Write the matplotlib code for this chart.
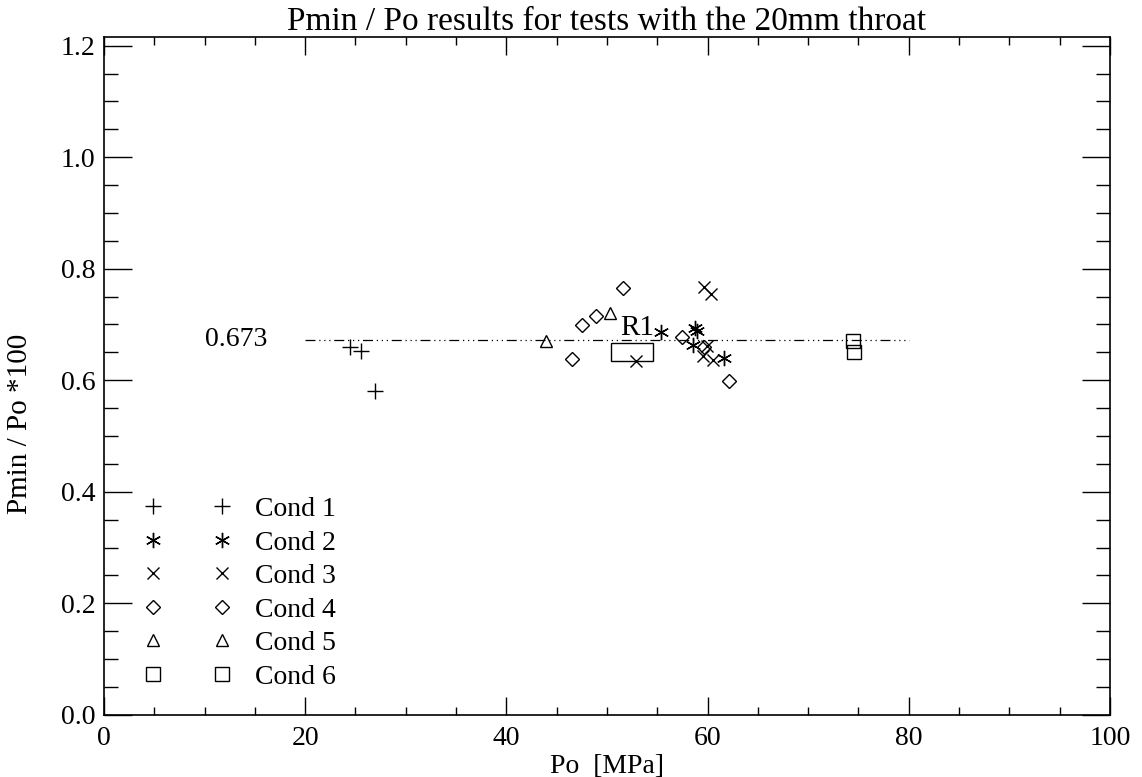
import matplotlib.pyplot as plt
from matplotlib.patches import Rectangle

plt.rcParams['font.family'] = ['Liberation Serif', 'DejaVu Serif']

# Pmin/Po measurements, grouped by test condition
cond1_po = [24.5, 25.6, 26.9]
cond1_ratio = [0.659, 0.652, 0.581]

cond2_po = [55.4, 58.7, 58.9, 58.6, 61.6]
cond2_ratio = [0.687, 0.693, 0.688, 0.664, 0.640]

cond3_po = [52.9, 59.6, 60.3, 59.9, 59.5, 60.5]
cond3_ratio = [0.634, 0.768, 0.755, 0.661, 0.643, 0.637]

cond4_po = [46.5, 47.5, 48.9, 51.6, 57.5, 59.6, 62.1]
cond4_ratio = [0.638, 0.699, 0.715, 0.765, 0.677, 0.660, 0.598]

cond5_po = [43.9, 50.3]
cond5_ratio = [0.670, 0.720]

cond6_po = [74.5, 74.6]
cond6_ratio = [0.670, 0.650]

mean_ratio = 0.673
mean_range = [20, 80]

# R1 test marked with a box
r1_box_x = [50.4, 54.6]
r1_box_y = [0.634, 0.667]

series = [
    (cond1_po, cond1_ratio, '+', 11, 'Cond 1'),
    (cond2_po, cond2_ratio, (6, 2, 0), 11, 'Cond 2'),
    (cond3_po, cond3_ratio, 'x', 9, 'Cond 3'),
    (cond4_po, cond4_ratio, 'D', 7, 'Cond 4'),
    (cond5_po, cond5_ratio, '^', 9, 'Cond 5'),
    (cond6_po, cond6_ratio, 's', 10, 'Cond 6'),
]

fig = plt.figure(figsize=(11.42, 7.77), dpi=100)
ax = fig.add_axes([0.091, 0.08, 0.881, 0.872])

for po, ratio, mk, ms, lab in series:
    ax.plot(po, ratio, linestyle='none', marker=mk, markersize=ms,
            markerfacecolor='none', markeredgecolor='black',
            markeredgewidth=1.0, color='black', label=lab)

ax.plot(mean_range, [mean_ratio, mean_ratio], color='black', linewidth=0.9,
        dashes=(8, 3, 1, 3, 1, 3, 1, 3))
ax.text(mean_range[0] - 3.8, mean_ratio, f'{mean_ratio:.3f}', ha='right',
        va='center', fontsize=20)

ax.add_patch(Rectangle((r1_box_x[0], r1_box_y[0]), r1_box_x[1] - r1_box_x[0],
                       r1_box_y[1] - r1_box_y[0], fill=False,
                       edgecolor='black', linewidth=1.0))
ax.text(53.0, r1_box_y[1] + 0.004, 'R1', ha='center', va='bottom',
        fontsize=21)

ax.set_xlim(0, 100)
ax.set_ylim(0, 1.215)
ax.set_xticks([0, 20, 40, 60, 80, 100])
ax.set_xticks(range(0, 101, 5), minor=True)
ax.set_yticks([0.0, 0.2, 0.4, 0.6, 0.8, 1.0, 1.2])
ax.set_yticks([i * 0.05 for i in range(25)], minor=True)
ax.set_yticklabels([f'{v:.1f}' for v in [0.0, 0.2, 0.4, 0.6, 0.8, 1.0, 1.2]])

ax.tick_params(axis='both', which='both', direction='in', top=True,
               right=True, labelsize=20, width=1.0)
ax.tick_params(axis='x', which='major', length=13, pad=8)
ax.tick_params(axis='x', which='minor', length=6)
ax.tick_params(axis='y', which='major', length=20, pad=6)
ax.tick_params(axis='y', which='minor', length=10)
for sp in ax.spines.values():
    sp.set_linewidth(1.2)

ax.set_xlabel('Po  [MPa]', fontsize=20, labelpad=2)
ax.set_ylabel('Pmin / Po *100', fontsize=21, labelpad=12)
ax.yaxis.set_label_coords(-0.07, 0.43)
ax.set_title('Pmin / Po results for tests with the 20mm throat',
             fontsize=24, pad=3)

ax.legend(loc='lower left', bbox_to_anchor=(0.029, 0.021), numpoints=2,
          frameon=False, fontsize=20, handlelength=3.1, handletextpad=0.9,
          labelspacing=0.29, borderaxespad=0)

fig.savefig('out.png', dpi=100)
